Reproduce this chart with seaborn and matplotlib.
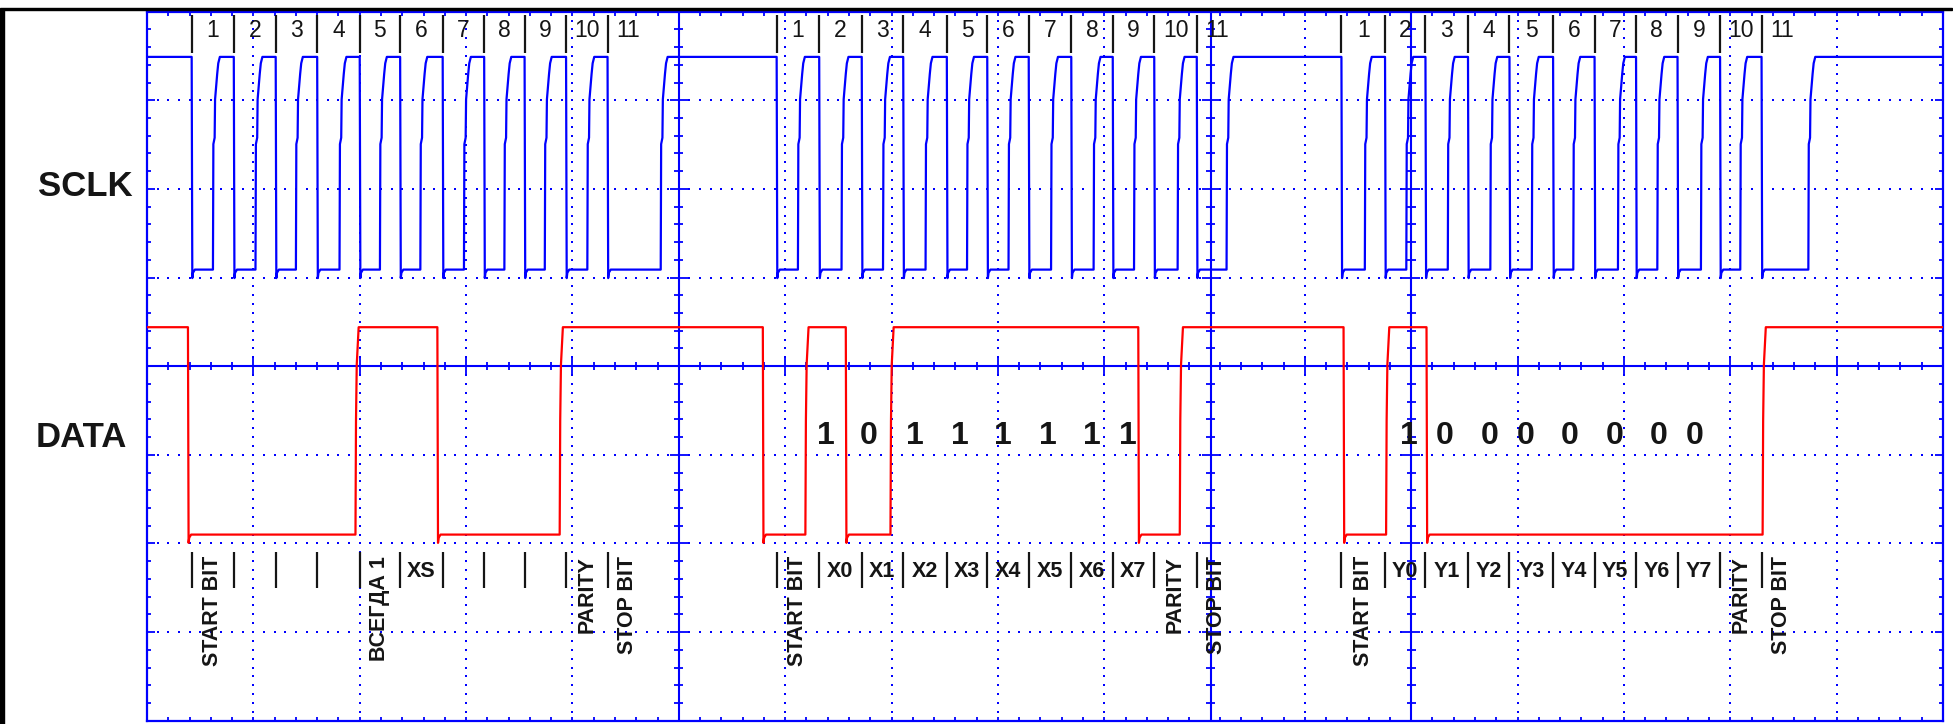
import numpy as np
import pandas as pd
import matplotlib
matplotlib.use('Agg')
import matplotlib.pyplot as plt
from matplotlib.collections import LineCollection
from matplotlib.patches import Rectangle
import seaborn as sns

sclk_falls = [0.42, 0.816, 1.21, 1.60, 2.0, 2.38, 2.78, 3.17, 3.55, 3.94, 4.33,
              5.92, 6.32, 6.72, 7.11, 7.52, 7.90, 8.29, 8.69, 9.08, 9.47, 9.87,
              11.23, 11.64, 12.02, 12.42, 12.81, 13.22, 13.61, 14.00, 14.39, 14.79, 15.18]
sclk_rises = [0.62, 1.02, 1.40, 1.81, 2.19, 2.57, 2.98, 3.36, 3.74, 4.14, 4.83,
              6.12, 6.53, 6.92, 7.32, 7.71, 8.10, 8.50, 8.90, 9.28, 9.69, 10.15,
              11.45, 11.84, 12.23, 12.63, 13.02, 13.41, 13.83, 14.20, 14.61, 14.98, 15.62]
data_falls = [0.385, 2.73, 5.79, 6.57, 9.32, 11.25, 12.03]
data_rises = [1.96, 3.88, 6.19, 6.99, 9.71, 11.65, 15.19]

sclk_high, sclk_low = 3.49, 1.09
data_high, data_low = 0.44, -1.90

clock_numbers = [str(i) for i in range(1, 12)]

labels_frame1 = ['START BIT', '', '', '', 'ВСЕГДА 1', 'XS', '', '', '', 'PARITY', 'STOP BIT']
labels_frame2 = ['START BIT', 'X0', 'X1', 'X2', 'X3', 'X4', 'X5', 'X6', 'X7', 'PARITY', 'STOP BIT']
labels_frame3 = ['START BIT', 'Y0', 'Y1', 'Y2', 'Y3', 'Y4', 'Y5', 'Y6', 'Y7', 'PARITY', 'STOP BIT']
rotated_labels = {'START BIT', 'ВСЕГДА 1', 'PARITY', 'STOP BIT'}

bits_x = ['1', '0', '1', '1', '1', '1', '1', '1']
bits_x_pos = [6.38, 6.79, 7.22, 7.64, 8.05, 8.47, 8.88, 9.22]
bits_y = ['1', '0', '0', '0', '0', '0', '0', '0']
bits_y_pos = [11.86, 12.20, 12.62, 12.96, 13.38, 13.80, 14.21, 14.55]

# Geometrie de l'ecran
X_MAX = 16.886
C3 = 11.886          # ligne centrale du 3e ecran
PX = 1 / 106.4       # 1 pixel en divisions (horizontal)
PY = 1 / 88.6        # 1 pixel en divisions (vertical)
BLUE = '#0000ff'
RED = '#ff0000'
INK = '#151515'

# forme des fronts (decalage en div, fraction de l'amplitude)
RISE_SCLK = ([0, .004, .016, .02, .04, .05, .065], [0, .59, .62, .8, .92, .97, 1.0])
RISE_DATA = ([0, .005, .012, .03], [0, .55, .82, 1.0])
FALL = ([0, .006, .012, .03], [1.0, -0.04, -0.015, 0.0])


def build_wave(falls, rises, high, low, rise_shape):
    edges = sorted([(x, 'f') for x in falls] + [(x, 'r') for x in rises])
    amp = high - low
    xs, ys = [0.0], [high]
    for x0, kind in edges:
        dx, fr = rise_shape if kind == 'r' else FALL
        for d, f in zip(dx, fr):
            xs.append(x0 + d)
            ys.append(low + f * amp)
    xs.append(X_MAX)
    ys.append(high)
    return pd.DataFrame({'x': xs, 'y': ys})


def screen_positions(step):
    a = np.arange(0, 10 + 1e-6, step)
    b = C3 + np.arange(-60, 60) * step
    b = b[(b > 10.0 + 1e-6) & (b <= X_MAX + 1e-6)]
    return np.concatenate([a, b])


def is_major(x):
    ref = x - C3 if x > 10.0 + 1e-6 else x
    return abs(ref - round(ref)) < 1e-6


sns.set_style('white')
plt.rcParams['font.family'] = ['Liberation Sans', 'DejaVu Sans']

fig = plt.figure(figsize=(19.53, 7.24), dpi=100)
ax = fig.add_axes([147 / 1953, 3.3 / 724, (1943 - 147) / 1953, 709 / 724])

# grille pointillee
v_lines = [1, 2, 3, 4, 6, 7, 8, 9] + [C3 - 1, C3 + 1, C3 + 2, C3 + 3, C3 + 4]
dot_y = np.arange(-4, 4.001, 0.1)
for xv in v_lines:
    ax.plot(np.full_like(dot_y, xv), dot_y, ls='none', marker='s', ms=1.7, mew=0, color=BLUE, zorder=1)
dot_x = screen_positions(0.1)
for yh in [-3, -2, -1, 1, 2, 3]:
    ax.plot(dot_x, np.full_like(dot_x, yh), ls='none', marker='s', ms=1.7, mew=0, color=BLUE, zorder=1)

# axes pleins avec graduations
ax.axhline(0, color=BLUE, lw=1.5, zorder=1)
for xv in [5, 10, C3]:
    ax.axvline(xv, color=BLUE, lw=1.5, zorder=1)

segs = []
for x in screen_positions(0.2):
    L = (8 if is_major(x) else 4) * PY
    segs.append([(x, -L), (x, L)])
    segs.append([(x, 4), (x, 4 - 4 * PY)])
    segs.append([(x, -4), (x, -4 + 4 * PY)])
for y in np.arange(-4, 4.001, 0.2):
    major = abs(y - round(y)) < 1e-6
    for xv in [5, 10, C3]:
        L = (9 if major else 4.5) * PX
        segs.append([(xv - L, y), (xv + L, y)])
    L = (8 if major else 4) * PX
    segs.append([(0, y), (L, y)])
    segs.append([(X_MAX, y), (X_MAX - L, y)])
ax.add_collection(LineCollection(segs, colors=BLUE, linewidths=1.3, zorder=1))

# traces
sclk = build_wave(sclk_falls, sclk_rises, sclk_high, sclk_low, RISE_SCLK)
data = build_wave(data_falls, data_rises, data_high, data_low, RISE_DATA)
sns.lineplot(data=sclk, x='x', y='y', sort=False, estimator=None, color=BLUE, lw=1.6, ax=ax, zorder=3)
sns.lineplot(data=data, x='x', y='y', sort=False, estimator=None, color=RED, lw=1.6, ax=ax, zorder=3)

# reperes des trames (fronts descendants de SCLK)
frames = [sclk_falls[0:11], sclk_falls[11:22], sclk_falls[22:33]]
frame_labels = [labels_frame1, labels_frame2, labels_frame3]
for marks, labels in zip(frames, frame_labels):
    ax.vlines(marks, 3.53, 3.96, color=INK, lw=1.6, zorder=4)
    ax.vlines(marks, -2.50, -2.10, color=INK, lw=1.6, zorder=4)
    centers = [(marks[i] + marks[i + 1]) / 2 for i in range(len(marks) - 1)] + [marks[-1] + 0.19]
    for xc, num, lab in zip(centers, clock_numbers, labels):
        ax.text(xc, 3.79, num, ha='center', va='center', fontsize=16.5, color=INK, zorder=5)
        if not lab:
            continue
        if lab in rotated_labels:
            ax.text(xc, -2.14, lab, ha='center', va='top', rotation=90, fontsize=15.5,
                    weight='bold', color=INK, zorder=5)
        else:
            ax.text(xc, -2.32, lab, ha='center', va='center', fontsize=15.5,
                    weight='bold', color=INK, zorder=5)

for xs_, bits in [(bits_x_pos, bits_x), (bits_y_pos, bits_y)]:
    for xb, b in zip(xs_, bits):
        ax.text(xb, -0.79, b, ha='center', va='center', fontsize=23, weight='bold', color=INK, zorder=5)

ax.text(-0.58, 2.03, 'SCLK', ha='center', va='center', fontsize=25, weight='bold', color=INK, clip_on=False)
ax.text(-0.62, -0.81, 'DATA', ha='center', va='center', fontsize=25, weight='bold', color=INK, clip_on=False)

ax.set_xlim(0, X_MAX)
ax.set_ylim(-4, 4)
ax.set(xlabel='', ylabel='', xticks=[], yticks=[])
for sp in ax.spines.values():
    sp.set_color(BLUE)
    sp.set_linewidth(1.6)
    sp.set_visible(True)

# bords noirs de la numerisation
fig.patches.append(Rectangle((0, (724 - 10) / 724), 1952 / 1953, 2.5 / 724,
                             transform=fig.transFigure, color='black', zorder=10))
fig.patches.append(Rectangle((0, 0), 4 / 1953, (724 - 9) / 724,
                             transform=fig.transFigure, color='black', zorder=10))

fig.savefig('out.png', dpi=100)
